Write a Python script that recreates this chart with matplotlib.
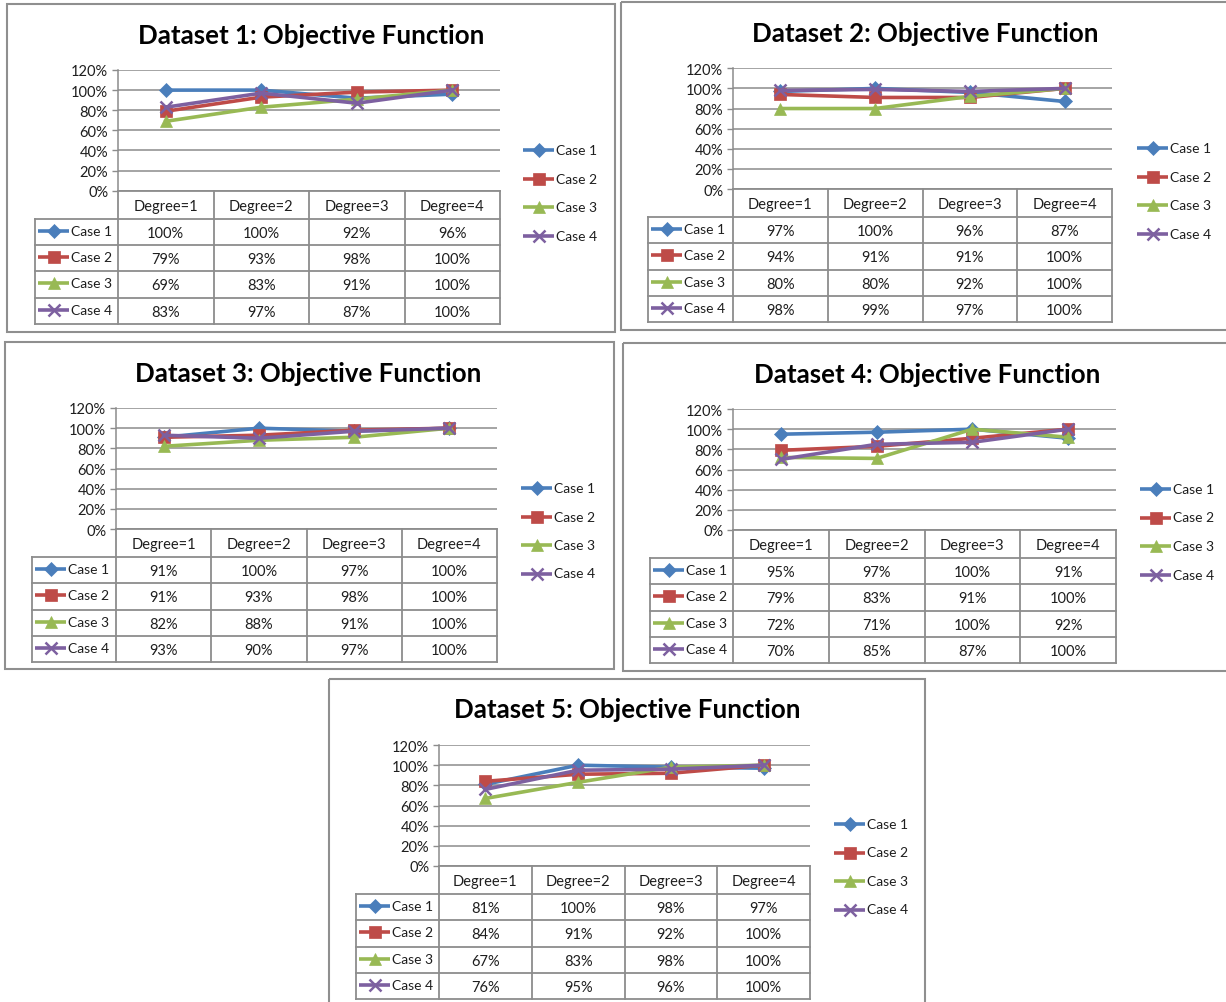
import matplotlib
matplotlib.use("Agg")
import matplotlib.pyplot as plt
import numpy as np

plt.rcParams['font.family'] = ['Lato', 'DejaVu Sans']

degrees = ["Degree=1", "Degree=2", "Degree=3", "Degree=4"]
cases = ["Case 1", "Case 2", "Case 3", "Case 4"]
titles = ["Dataset 1: Objective Function", "Dataset 2: Objective Function",
          "Dataset 3: Objective Function", "Dataset 4: Objective Function",
          "Dataset 5: Objective Function"]

# percent values, one row per case
ds1 = [[100, 100, 92, 96], [79, 93, 98, 100], [69, 83, 91, 100], [83, 97, 87, 100]]
ds2 = [[97, 100, 96, 87], [94, 91, 91, 100], [80, 80, 92, 100], [98, 99, 97, 100]]
ds3 = [[91, 100, 97, 100], [91, 93, 98, 100], [82, 88, 91, 100], [93, 90, 97, 100]]
ds4 = [[95, 97, 100, 91], [79, 83, 91, 100], [72, 71, 100, 92], [70, 85, 87, 100]]
ds5 = [[81, 100, 98, 97], [84, 91, 92, 100], [67, 83, 98, 100], [76, 95, 96, 100]]
datasets = [ds1, ds2, ds3, ds4, ds5]

colors = ["#4A7EBB", "#BE4B48", "#98B954", "#7D60A0"]
markers = ["D", "s", "^", "x"]
msizes = [7, 8.5, 9, 8.5]

W, H = 1226, 1003
fig = plt.figure(figsize=(W / 100, H / 100), dpi=100)
fig.patch.set_facecolor("white")

# full-figure layer in pixel units for frames, tables and legends
over = fig.add_axes([0, 0, 1, 1])
over.set_xlim(0, W)
over.set_ylim(H, 0)
over.axis("off")

# layout of each chart block (pixels)
layout = [
    dict(box=(7, 5, 615, 333), title=(311, 36), plot=(118, 500, 71, 191.7), tleft=35, leg=(523, 151)),
    dict(box=(621, 3, 1240, 331), title=(925, 34), plot=(733, 1112, 69.3, 190), tleft=648, leg=(1137, 149)),
    dict(box=(5, 343, 614, 670), title=(308, 374), plot=(116, 497, 409, 530), tleft=32, leg=(521, 489)),
    dict(box=(623, 344, 1240, 672), title=(927, 375), plot=(733, 1116, 410, 531), tleft=650, leg=(1140, 490)),
    dict(box=(329, 680, 925, 1015), title=(627, 710), plot=(439, 810, 746, 867), tleft=356, leg=(834, 825)),
]

grid_c = "#8c8c8c"
text_c = "#1e1e1e"
fs = 10.5
fs_key = 10
line_w = 2.6
header_h = 28
row_h = 26.3
leg_step = 28.5


def key_glyph(x, y, i):
    over.plot([x, x + 31], [y, y], color=colors[i], lw=line_w, solid_capstyle="butt")
    over.plot([x + 15.5], [y], marker=markers[i], color=colors[i], ms=msizes[i],
              mew=1.8 if markers[i] == "x" else 0.5)


for k, (lay, data, title) in enumerate(zip(layout, datasets, titles)):
    bx0, by0, bx1, by1 = lay["box"]
    over.add_patch(plt.Rectangle((bx0, by0), bx1 - bx0, by1 - by0, fill=False,
                                 ec="#8f8f8f", lw=1.5))
    over.text(lay["title"][0], lay["title"][1], title, ha="center", va="center",
              fontsize=18.6, fontweight="bold", color="black")

    px0, px1, ptop, pbot = lay["plot"]
    ax = fig.add_axes([px0 / W, 1 - pbot / H, (px1 - px0) / W, (pbot - ptop) / H])
    for i in range(len(cases)):
        vals = np.array(data[i]) / 100
        ax.plot(range(len(degrees)), vals, color=colors[i], lw=line_w, marker=markers[i],
                ms=msizes[i], mew=1.8 if markers[i] == "x" else 0.5, clip_on=False)
    ax.set_xlim(-0.5, 3.5)
    ax.set_ylim(0, 1.2)
    yt = np.arange(0, 1.21, 0.2)
    ax.set_yticks(yt)
    ax.set_yticklabels([f"{int(round(t * 100))}%" for t in yt], fontsize=fs, color=text_c)
    ax.set_xticks([])
    ax.yaxis.grid(True, color=grid_c, lw=1.1)
    ax.set_axisbelow(True)
    ax.tick_params(axis="y", length=4, width=1, color=grid_c, pad=3)
    for s in ["top", "right", "bottom"]:
        ax.spines[s].set_visible(False)
    ax.spines["left"].set_color(grid_c)
    ax.spines["left"].set_linewidth(1.1)
    ax.patch.set_alpha(0)

    # data table under the plot
    tl = lay["tleft"]
    col_edges = np.linspace(px0, px1, len(degrees) + 1)
    y_head = pbot + header_h
    row_edges = y_head + row_h * np.arange(len(cases) + 1)
    tb = row_edges[-1]
    lc, lw = "#8c8c8c", 1.3
    over.plot([px0, px1], [pbot, pbot], color=lc, lw=lw)
    for xe in col_edges:
        over.plot([xe, xe], [pbot, tb], color=lc, lw=lw)
    over.plot([tl, tl], [y_head, tb], color=lc, lw=lw)
    for ye in row_edges:
        over.plot([tl, px1], [ye, ye], color=lc, lw=lw)
    for j, d in enumerate(degrees):
        over.text((col_edges[j] + col_edges[j + 1]) / 2, (pbot + y_head) / 2 + 1, d,
                  ha="center", va="center", fontsize=fs, color=text_c)
    for i, c in enumerate(cases):
        yc = (row_edges[i] + row_edges[i + 1]) / 2
        key_glyph(tl + 3, yc - 1, i)
        over.text(tl + 36, yc - 1, c, ha="left", va="center", fontsize=fs_key, color=text_c)
        for j in range(len(degrees)):
            over.text((col_edges[j] + col_edges[j + 1]) / 2, yc + 1, f"{data[i][j]}%",
                      ha="center", va="center", fontsize=fs, color=text_c)

    # legend at the right
    lx, ly = lay["leg"]
    for i, c in enumerate(cases):
        yy = ly + leg_step * i
        key_glyph(lx, yy, i)
        over.text(lx + 33, yy, c, ha="left", va="center", fontsize=fs_key, color=text_c)

fig.savefig("out.png", dpi=100, facecolor="white")
